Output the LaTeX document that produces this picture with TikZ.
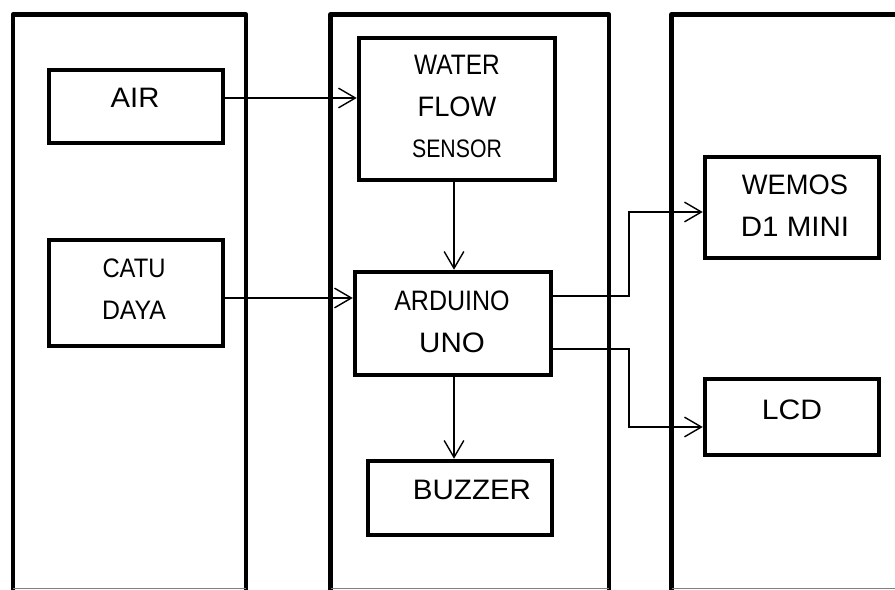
\documentclass[tikz,border=0pt]{standalone}
\usepackage{fontspec}
\usepackage{graphicx}
\setmainfont{Liberation Sans}
\usetikzlibrary{arrows.meta,fit}
\newcommand{\thk}{3.2pt}
\newcommand{\sx}[2]{\scalebox{#1}[1]{#2}}

\begin{document}
\begin{tikzpicture}[x=0.025cm,y=-0.025cm,
  blk/.style={draw,line width=\thk,inner sep=0pt},
  txt/.style={inner sep=0pt,align=center,font=\fontsize{20}{29.8}\selectfont},
  arr/.style={line width=1pt,-{Straight Barb[length=12pt,width=14pt]}}]
\useasboundingbox (0,0) rectangle (895,590);
\clip (0,0) rectangle (895,590);
% columns
\foreach \a/\b in {13/246,330.5/609}{
  \draw[line width=\thk,line join=round] (\a,595) -- (\a,14.5) -- (\b,14.5) -- (\b,595);
  \draw[gray,line width=0.6pt] (\a,588.5) -- (\b,588.5);
}
\draw[line width=\thk,line join=round] (671.5,595) -- (671.5,14.5) -- (900,14.5);
\draw[gray,line width=0.6pt] (671.5,588.5) -- (900,588.5);
% boxes
\node[blk,fit={(49,70) (223,143)}] (air) {};
\node[blk,fit={(49,240) (223,346)}] (cd) {};
\node[blk,fit={(359,38) (555,180)}] (wfs) {};
\node[blk,fit={(355,272) (551,375)}] (ard) {};
\node[blk,fit={(368,461) (552,535)}] (buz) {};
\node[blk,fit={(705,157) (879,258)}] (wem) {};
\node[blk,fit={(705,379) (879,455)}] (lcd) {};
% texts
\node[txt] (airtxt) at (135,98) {\sx{1.04}{AIR}};
\node[txt,font=\fontsize{19}{29.8}\selectfont] (cdtxt) at (134,289) {\sx{0.89}{CATU}\\\sx{0.93}{DAYA}};
\node[txt] (wfstxt) at (457,106.5) {\sx{0.87}{WATER}\\\sx{0.97}{FLOW}\\{\fontsize{18}{29.8}\selectfont\sx{0.84}{SENSOR}}};
\node[txt] (ardtxt) at (452,322) {\sx{0.89}{ARDUINO}\\\sx{1.05}{UNO}};
\node[txt] (buztxt) at (472,490) {\sx{1.05}{BUZZER}};
\node[txt] (wemtxt) at (795,206) {\sx{0.97}{WEMOS}\\\sx{1.05}{D1 MINI}};
\node[txt] (lcdtxt) at (792,410) {\sx{1.07}{LCD}};
% connectors
\coordinate (jw) at (629,212);
\coordinate (jl) at (629,427);
\draw[arr] (air.east |- 0,98) -- (wfs.west |- 0,98);
\draw[arr] (cd.east |- 0,298) -- (ard.west |- 0,298);
\draw[arr] (wfs.south -| 454,0) -- (ard.north -| 454,0);
\draw[arr] (ard.south -| 454,0) -- (buz.north -| 454,0);
\draw[arr] (ard.east |- 0,296) -| (jw) -- (wem.west |- jw);
\draw[arr] (ard.east |- 0,349) -| (jl) -- (lcd.west |- jl);
\end{tikzpicture}
\end{document}
